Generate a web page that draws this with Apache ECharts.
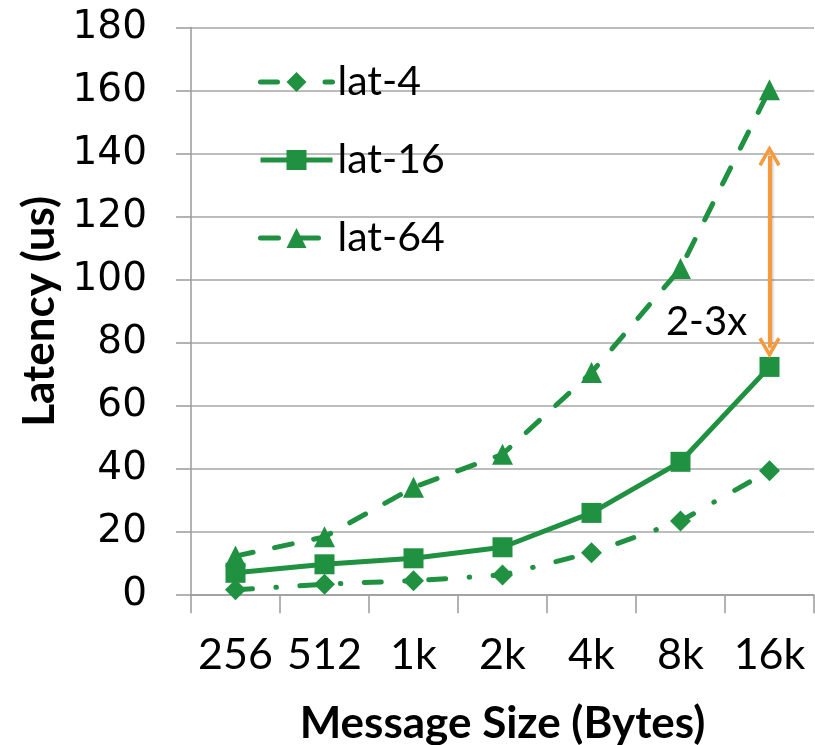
<!DOCTYPE html>
<html>
<head>
<meta charset="utf-8">
<script src="https://cdn.jsdelivr.net/npm/echarts@6/dist/echarts.min.js"></script>
<style>
  html, body { margin: 0; padding: 0; background: #fff; }
  #chart { width: 815px; height: 745px; }
</style>
</head>
<body>
<div id="chart"></div>
<script>
// Message sizes on the x axis
const categories = ['256', '512', '1k', '2k', '4k', '8k', '16k'];

// Latency (us) per message size for each configuration
const lat4  = [1.7, 3.5, 4.6, 6.4, 13.5, 23.5, 39.5];
const lat16 = [7.1, 9.8, 11.7, 15.2, 26.1, 42.3, 72.4];
const lat64 = [12.4, 18.5, 34.2, 44.7, 70.6, 103.6, 160.3];

// Y axis range
const yMin = 0, yMax = 180, yStep = 20;

// Gap annotation at 16k: double arrow between the two series, with its label
const gapArrowTop = 139.4;
const gapArrowBottom = 78.5;
const gapLabelValue = 86.6;
const gapLabel = '2-3x';

const green = '#1F9140';
const orange = '#F79A3B';
const lineW = 5;

// Open chevron head, drawn pointing up
const chevron = 'path://M11,0 L22,19 L19,21 L11,7 L3,21 L0,19 Z';

const chart = echarts.init(document.getElementById('chart'), null, { renderer: 'canvas' });

chart.setOption({
  animation: false,
  backgroundColor: '#ffffff',
  grid: { left: 191, right: 1, top: 27.6, bottom: 149.8, containLabel: false, outerBoundsMode: 'none' },
  legend: {
    orient: 'vertical',
    left: 253,
    top: 53,
    itemWidth: 72,
    itemHeight: 25,
    itemGap: 30,
    lineStyle: { width: lineW },
    textStyle: { fontFamily: 'Lato', fontSize: 41, color: '#000', lineHeight: 48, padding: [0, 0, 0, 0] },
    data: ['lat-4', 'lat-16', 'lat-64']
  },
  xAxis: {
    type: 'category',
    data: categories,
    boundaryGap: true,
    axisLine: { lineStyle: { color: '#9a9a9a', width: 1.5 } },
    axisTick: { show: true, length: 18, lineStyle: { color: '#9a9a9a', width: 1.5 } },
    axisLabel: { interval: 0, fontFamily: 'Lato', fontSize: 43, color: '#000', margin: 38 },
    name: 'Message Size (Bytes)',
    nameLocation: 'middle',
    nameGap: 107,
    nameTextStyle: { fontFamily: 'Lato', fontWeight: 'bold', fontSize: 44, color: '#000' }
  },
  yAxis: {
    type: 'value',
    min: yMin,
    max: yMax,
    interval: yStep,
    axisLine: { show: true, lineStyle: { color: '#9a9a9a', width: 1.5 } },
    axisTick: { show: true, length: 15, lineStyle: { color: '#9a9a9a', width: 1.5 } },
    splitLine: { show: true, lineStyle: { color: '#a6a6a6', width: 1.5 } },
    axisLabel: { fontFamily: 'DejaVu Sans', fontSize: 39, color: '#000', margin: 44 },
    name: 'Latency (us)',
    nameLocation: 'middle',
    nameGap: 129,
    nameRotate: 90,
    nameTextStyle: { fontFamily: 'Lato', fontWeight: 'bold', fontSize: 44, color: '#000' }
  },
  series: [
    {
      name: 'lat-4',
      type: 'line',
      data: lat4,
      symbol: 'diamond',
      symbolSize: 21,
      color: green,
      itemStyle: { color: green },
      lineStyle: { color: green, width: lineW, type: [17, 23.5, 0.5, 23.5], cap: 'round' },
      z: 3
    },
    {
      name: 'lat-16',
      type: 'line',
      data: lat16,
      symbol: 'rect',
      symbolSize: 20,
      color: green,
      itemStyle: { color: green },
      lineStyle: { color: green, width: lineW, type: 'solid' },
      z: 4,
      markLine: {
        silent: true,
        symbol: [chevron, chevron],
        symbolSize: [22, 21],
        lineStyle: { color: orange, width: 4, type: 'solid', shadowColor: 'rgba(0,0,0,0.25)', shadowBlur: 3, shadowOffsetX: 1, shadowOffsetY: 1 },
        label: { show: false },
        data: [[
          { coord: [categories[6], gapArrowTop] },
          { coord: [categories[6], gapArrowBottom] }
        ]]
      },
      markPoint: {
        silent: true,
        symbol: 'circle',
        symbolSize: 1,
        itemStyle: { color: 'rgba(0,0,0,0)' },
        label: {
          show: true,
          position: 'inside',
          offset: [-63, 0],
          formatter: gapLabel,
          fontFamily: 'Lato',
          fontSize: 40,
          color: '#000'
        },
        data: [{ coord: [categories[6], gapLabelValue] }]
      }
    },
    {
      name: 'lat-64',
      type: 'line',
      data: lat64,
      symbol: 'triangle',
      symbolSize: 21,
      color: green,
      itemStyle: { color: green },
      lineStyle: { color: green, width: lineW, type: [18, 22], cap: 'round' },
      z: 2
    }
  ]
});
</script>
</body>
</html>
